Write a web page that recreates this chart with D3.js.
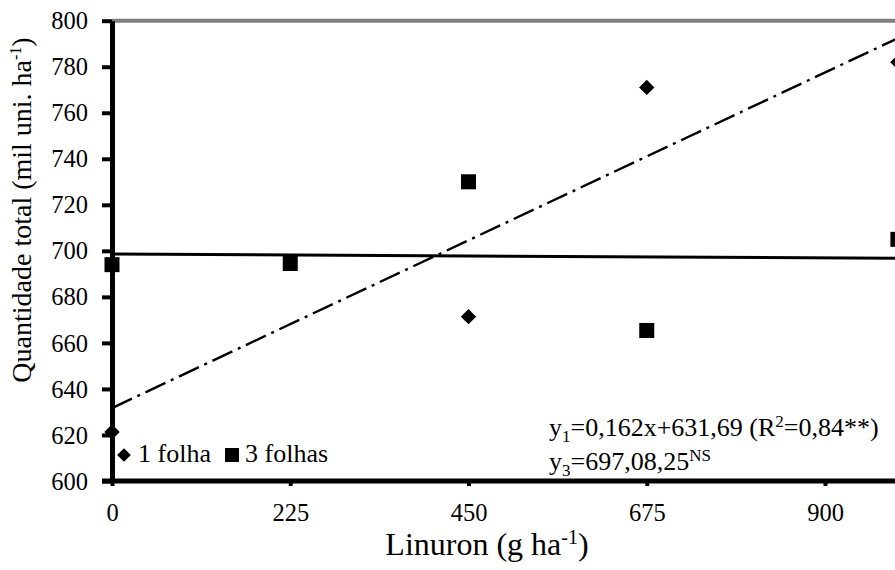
<!DOCTYPE html>
<html>
<head>
<meta charset="utf-8">
<script src="https://cdn.jsdelivr.net/npm/d3@7"></script>
<style>
  body { margin: 0; background: #fff; }
  svg { display: block; font-family: "Liberation Serif", "Times New Roman", serif; }
</style>
</head>
<body>
<div id="chart"></div>
<script>
// data
const xTicks = [0, 225, 450, 675, 900];
const yTicks = [600, 620, 640, 660, 680, 700, 720, 740, 760, 780, 800];
const doses1 = [0, 450, 675, 992];
const folha1 = [621.3, 671.4, 771, 782];
const doses3 = [0, 225, 450, 675, 992];
const folha3 = [694, 694.5, 730, 665.4, 705];
const fit1 = { a: 0.162, b: 631.69 };
const fit3Ends = [[0, 698.6], [1000, 696.8]];

const width = 895, height = 570;

const svg = d3.select("#chart")
  .append("svg")
  .attr("width", width)
  .attr("height", height);

const x = d3.scaleLinear().domain([0, 900]).range([112, 825]);
const y = d3.scaleLinear().domain([600, 800]).range([481, 20.7]);

// top border of plot area
svg.append("line")
  .attr("x1", x(0)).attr("x2", width)
  .attr("y1", y(800)).attr("y2", y(800))
  .attr("stroke", "#808080")
  .attr("stroke-width", 4);

// y axis
const yAxis = svg.append("g")
  .attr("transform", `translate(${x(0)},0)`)
  .call(d3.axisLeft(y).tickValues(yTicks).tickSize(10).tickPadding(14).tickSizeOuter(0));
yAxis.attr("font-family", null);
yAxis.select(".domain").attr("stroke", "#000").attr("stroke-width", 5);
yAxis.selectAll(".tick line").attr("stroke", "#000").attr("stroke-width", 4);
yAxis.selectAll(".tick text")
  .style("font-size", "24.5px")
  .attr("fill", "#000")
  .attr("dy", "0.33em");

// x axis
const xAxis = svg.append("g")
  .attr("transform", `translate(0,${y(600)})`)
  .call(d3.axisBottom(x).tickValues(xTicks).tickSize(5).tickPadding(18).tickSizeOuter(0));
xAxis.attr("font-family", null);
xAxis.select(".domain").attr("stroke", "#000").attr("stroke-width", 5)
  .attr("d", `M${x(0) - 10},0H${width}`);
xAxis.selectAll(".tick line").attr("stroke", "#000").attr("stroke-width", 4);
xAxis.selectAll(".tick text")
  .style("font-size", "24.5px")
  .attr("fill", "#000");

// regression lines
const line = d3.line().x(d => x(d[0])).y(d => y(d[1]));

svg.append("path")
  .datum(fit3Ends)
  .attr("d", line)
  .attr("fill", "none")
  .attr("stroke", "#000")
  .attr("stroke-width", 3);

svg.append("path")
  .datum([0, 1000].map(d => [d, fit1.a * d + fit1.b]))
  .attr("d", line)
  .attr("fill", "none")
  .attr("stroke", "#000")
  .attr("stroke-width", 2.4)
  .attr("stroke-dasharray", "22,6,3,6");

// points
const diamond = d3.symbol().type(d3.symbolDiamond2).size(150);
svg.selectAll(".p1")
  .data(doses1.map((d, i) => [d, folha1[i]]))
  .enter()
  .append("path")
  .attr("class", "p1")
  .attr("d", diamond)
  .attr("transform", d => `translate(${x(d[0])},${y(d[1])})`)
  .attr("fill", "#000");

svg.selectAll(".p3")
  .data(doses3.map((d, i) => [d, folha3[i]]))
  .enter()
  .append("rect")
  .attr("class", "p3")
  .attr("x", d => x(d[0]) - 7.5)
  .attr("y", d => y(d[1]) - 7.5)
  .attr("width", 15)
  .attr("height", 15)
  .attr("fill", "#000");

// legend
svg.append("path")
  .attr("d", d3.symbol().type(d3.symbolDiamond2).size(120))
  .attr("transform", "translate(124,455)")
  .attr("fill", "#000");
svg.append("text").attr("x", 138).attr("y", 462)
  .style("font-size", "26px").text("1 folha");
svg.append("rect")
  .attr("x", 225).attr("y", 448).attr("width", 14).attr("height", 14)
  .attr("fill", "#000");
svg.append("text").attr("x", 245).attr("y", 462)
  .style("font-size", "26px").text("3 folhas");

// equations
const eq1 = svg.append("text").attr("x", 549).attr("y", 436).style("font-size", "26px");
eq1.append("tspan").text("y");
eq1.append("tspan").attr("dy", 6).style("font-size", "17px").text("1");
eq1.append("tspan").attr("dy", -6).text("=0,162x+631,69 (R");
eq1.append("tspan").attr("dy", -9).style("font-size", "17px").text("2");
eq1.append("tspan").attr("dy", 9).text("=0,84**)");

const eq3 = svg.append("text").attr("x", 549).attr("y", 470).style("font-size", "26px");
eq3.append("tspan").text("y");
eq3.append("tspan").attr("dy", 6).style("font-size", "17px").text("3");
eq3.append("tspan").attr("dy", -6).text("=697,08,25");
eq3.append("tspan").attr("dy", -9).style("font-size", "17px").text("NS");

// axis titles
const xt = svg.append("text")
  .attr("x", 487).attr("y", 555)
  .attr("text-anchor", "middle")
  .style("font-size", "32px");
xt.append("tspan").text("Linuron (g ha");
xt.append("tspan").attr("dy", -11).style("font-size", "20px").text("-1");
xt.append("tspan").attr("dy", 11).text(")");

const yt = svg.append("text")
  .attr("transform", "translate(31,210) rotate(-90)")
  .attr("text-anchor", "middle")
  .style("font-size", "28px");
yt.append("tspan").text("Quantidade total (mil uni. ha");
yt.append("tspan").attr("dy", -10).style("font-size", "16px").text("-1");
yt.append("tspan").attr("dy", 10).text(")");
</script>
</body>
</html>
